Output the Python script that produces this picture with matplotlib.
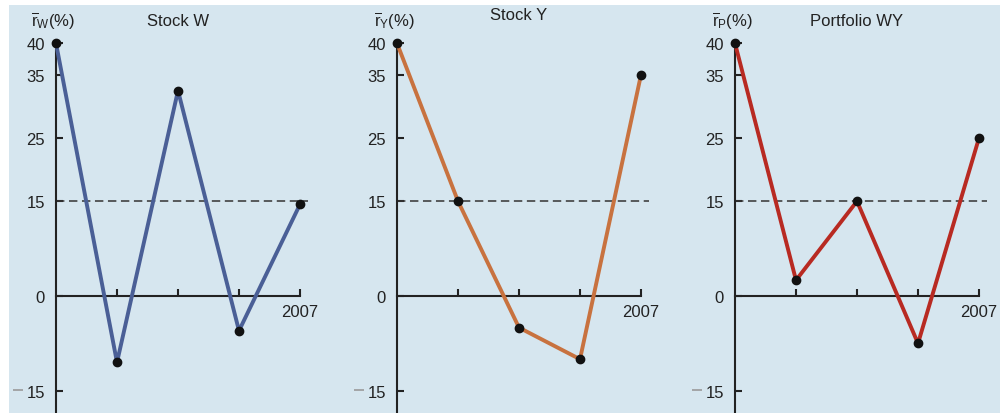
import matplotlib
matplotlib.use("Agg")
import matplotlib.pyplot as plt
from matplotlib.patches import Rectangle

plt.rcParams['font.family'] = ['Liberation Sans', 'DejaVu Sans']
plt.rcParams['mathtext.fontset'] = 'custom'
plt.rcParams['mathtext.rm'] = 'Liberation Sans'
plt.rcParams['mathtext.it'] = 'Liberation Sans'

# ---- data ----
years = [2003, 2004, 2005, 2006, 2007]
stock_w = [40, -10.5, 32.5, -5.5, 14.5]
stock_y = [40, 15, -5, -10, 35]
portfolio_wy = [40, 2.5, 15, -7.5, 25]
titles = ["Stock W", "Stock Y", "Portfolio WY"]
ylabels = [r"$\overline{\mathrm{r}}_{\mathrm{W}}$(%)",
           r"$\overline{\mathrm{r}}_{\mathrm{Y}}$(%)",
           r"$\overline{\mathrm{r}}_{\mathrm{P}}$(%)"]
yticks = [40, 35, 25, 15, 0, -15]
ytick_labels = ["40", "35", "25", "15", "0", "15"]
avg_return = 15
series = [stock_w, stock_y, portfolio_wy]
colors = ["#4a5f96", "#c8723f", "#b82a22"]

W, H = 1000, 414
fig = plt.figure(figsize=(W / 100, H / 100), dpi=100)
fig.patch.set_facecolor("white")
fig.patches.append(Rectangle((9 / W, 0), 1 - 9 / W, (H - 6) / H,
                             transform=fig.transFigure, facecolor="#d6e6ef",
                             edgecolor="none", zorder=-10))

axis_x = [56, 397, 735]
title_pos = [(178, 21), (519, 15), (857, 21)]
step = 61.0
yscale = 6.32
zero_y = 297
top_px, bot_px = 30, 414
pad_l, pad_r = 40, 25

for k in range(3):
    ax0 = axis_x[k]
    left = ax0 - pad_l
    right = ax0 + 4 * step + pad_r
    ax = fig.add_axes([left / W, (H - bot_px) / H, (right - left) / W, (bot_px - top_px) / H])
    ax.set_facecolor("none")
    ax.set_zorder(5)
    idx = list(range(len(years)))
    ax.set_xlim(-pad_l / step, 4 + pad_r / step)
    ax.set_ylim((zero_y - bot_px) / yscale, (zero_y - top_px) / yscale)

    for s in ["top", "right"]:
        ax.spines[s].set_visible(False)
    ax.spines["left"].set_position(("data", 0))
    ax.spines["bottom"].set_position(("data", 0))
    ax.spines["left"].set_bounds((zero_y - bot_px) / yscale, 40)
    ax.spines["bottom"].set_bounds(0, 4)
    for s in ["left", "bottom"]:
        ax.spines[s].set_linewidth(1.5)
        ax.spines[s].set_color("#222222")

    ax.set_yticks(yticks)
    ax.set_yticklabels(ytick_labels)
    ax.set_xticks(idx[1:])
    ax.set_xticklabels(["", "", "", str(years[-1])])
    ax.tick_params(axis="y", direction="in", length=5, width=1.5, color="#222222",
                   labelsize=12, pad=8, labelcolor="#222222")
    ax.tick_params(axis="x", direction="in", length=5, width=1.5, color="#222222",
                   labelsize=12, pad=6, labelcolor="#222222")
    # gray minus sign for -15
    ax.plot([-0.70, -0.54], [-14.9, -14.9], color="#9a9a9a", lw=1.2,
            clip_on=False, solid_capstyle="butt")

    ax.plot([0, 4 + 8 / step], [avg_return, avg_return], ls=(0, (5.5, 3)),
            color="#333333", lw=1.1, zorder=2)
    ax.plot(idx, series[k], color=colors[k], lw=2.8, zorder=3,
            marker="o", ms=6, mfc="#111111", mec="#111111", solid_capstyle="butt")

    tx, ty = title_pos[k]
    fig.text(tx / W, 1 - ty / H, titles[k], ha="center", va="center",
             fontsize=12, color="#222222")
    fig.text((ax0 - 3) / W, 1 - 21 / H, ylabels[k], ha="center", va="center",
             fontsize=12, color="#222222")

fig.savefig("out.png", dpi=100)
